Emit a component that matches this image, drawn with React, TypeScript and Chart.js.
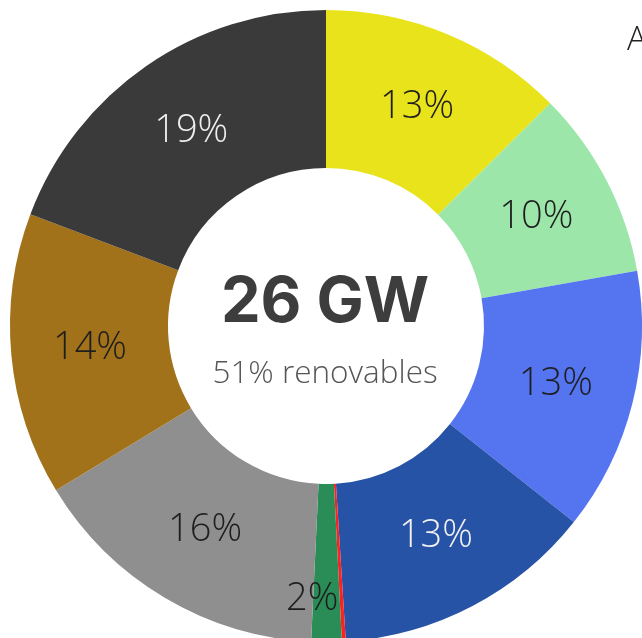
import React, { useEffect, useRef } from "react";
import { Chart, registerables } from "chart.js";

Chart.register(...registerables);

const categories = [
  "Solar fotovoltaica",
  "Solar térmica",
  "Eólica",
  "Hidráulica",
  "Otras renovables",
  "Residuos renovables",
  "Cogeneración",
  "Carbón",
  "Ciclo combinado",
];
const shares = [12.55, 9.65, 13.45, 13.35, 0.2, 1.55, 15.55, 14.45, 19.25];
const colors = [
  "#E8E31A",
  "#9CE6AA",
  "#5474F0",
  "#2753A6",
  "#FF2020",
  "#2A8C57",
  "#8F8F8F",
  "#A2721A",
  "#3A3A3A",
];
const labelColors = ["#1e1e1e", "#1e1e1e", "#1e1e1e", "#f2f2f2", "#1e1e1e", "#1e1e1e", "#1e1e1e", "#1e1e1e", "#eeeeee"];
const totalText = "26 GW";
const subText = "51% renovables";
const sideText = "A";

const LIGHT = "300 38px 'Open Sans', 'Lato', sans-serif";

const labelPlugin = {
  id: "sliceLabels",
  afterDatasetsDraw(chart: any) {
    const ctx = chart.ctx;
    const meta = chart.getDatasetMeta(0);
    const data = chart.data.datasets[0].data as number[];
    const total = data.reduce((a, b) => a + b, 0);
    ctx.save();
    ctx.font = LIGHT;
    ctx.textBaseline = "middle";
    meta.data.forEach((arc: any, i: number) => {
      const pct = Math.round((data[i] / total) * 100);
      if (pct < 1) return;
      const { x, y, startAngle, endAngle, innerRadius, outerRadius } = arc.getProps(
        ["x", "y", "startAngle", "endAngle", "innerRadius", "outerRadius"],
        true
      );
      const mid = (startAngle + endAngle) / 2;
      const small = pct < 3;
      const frac = small ? 0.73 : 0.5;
      const r = innerRadius + (outerRadius - innerRadius) * frac;
      ctx.fillStyle = labelColors[i];
      ctx.textAlign = small ? "right" : "center";
      const tx = x + Math.cos(mid) * r + (small ? 12 : 0);
      ctx.fillText(pct + "%", tx, y + Math.sin(mid) * r);
    });
    // center text
    const arc0 = meta.data[0] as any;
    const cx = arc0.x;
    const cy = arc0.y;
    ctx.textAlign = "center";
    ctx.fillStyle = "#3d3d3d";
    ctx.font = "700 63px 'Inter', 'Liberation Sans', sans-serif";
    ctx.textBaseline = "alphabetic";
    ctx.fillText(totalText, cx - 1, cy - 4);
    ctx.fillStyle = "#555555";
    ctx.font = "300 31.5px 'Open Sans', 'Lato', sans-serif";
    ctx.fillText(subText, cx - 1, cy + 57);
    ctx.restore();
  },
};

export default function App() {
  const ref = useRef<HTMLCanvasElement>(null);
  useEffect(() => {
    if (!ref.current) return;
    const chart = new Chart(ref.current, {
      type: "doughnut",
      data: {
        labels: categories,
        datasets: [
          {
            data: shares,
            backgroundColor: colors,
            borderWidth: 0,
            hoverOffset: 0,
          },
        ],
      },
      options: {
        responsive: false,
        animation: false,
        cutout: "50%",
        layout: { padding: { left: 10, top: 10, right: 18, bottom: 18 } },
        plugins: {
          legend: { display: false },
          tooltip: { enabled: false },
        },
      },
      plugins: [labelPlugin],
    });
    return () => chart.destroy();
  }, []);
  return (
    <div style={{ position: "fixed", left: 0, top: 0, width: 642, height: 638, overflow: "hidden", background: "#fff" }}>
      <canvas ref={ref} width={660} height={660} style={{ position: "absolute", left: 0, top: 0 }} />
      <div
        style={{
          position: "absolute",
          left: 627,
          top: 15,
          font: "300 33px 'Open Sans', 'Lato', sans-serif",
          color: "#222",
          whiteSpace: "nowrap",
        }}
      >
        {sideText}
      </div>
    </div>
  );
}
